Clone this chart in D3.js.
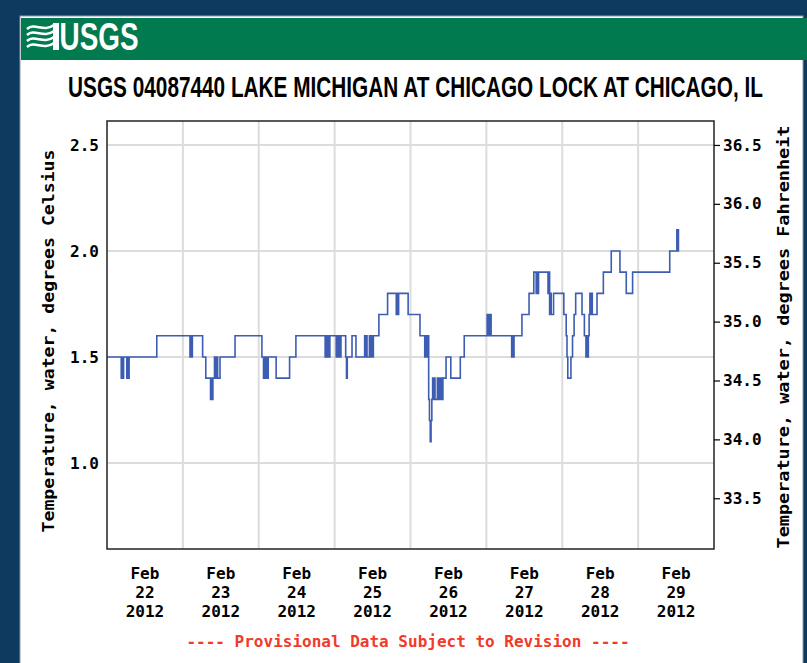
<!doctype html>
<html>
<head>
<meta charset="utf-8">
<title>USGS 04087440 water temperature</title>
<style>
  * { margin: 0; padding: 0; }
  body { background: #0f3a5f; width: 807px; height: 663px; overflow: hidden; }
  svg { display: block; }
  .mono { font-family: "DejaVu Sans Mono", "Liberation Mono", monospace; }
</style>
<script src="https://cdn.jsdelivr.net/npm/d3@7"></script>
</head>
<body>
<div id="chart"></div>
<script>
// station / title
var stationTitle = 'USGS 04087440 LAKE MICHIGAN AT CHICAGO LOCK AT CHICAGO, IL';
var leftTitle = 'Temperature, water, degrees Celsius';
var rightTitle = 'Temperature, water, degrees Fahrenheit';
var footNote = '---- Provisional Data Subject to Revision ----';

// axis extents and ticks
var startDate = new Date(2012, 1, 22);
var endDate = new Date(2012, 2, 1);
var yDomainC = [0.594, 2.613];
var celsiusTicks = [1.0, 1.5, 2.0, 2.5];
var fahrenheitTicks = [33.5, 34.0, 34.5, 35.0, 35.5, 36.0, 36.5];
var dayLabels = [22, 23, 24, 25, 26, 27, 28, 29];

// observations: hours after Feb 22 00:00 and temperature (deg C) from that time on
var obsHours = [0, 4.5, 4.75, 5, 5.25, 6.25, 6.5, 6.75, 7, 15.75,
  26.25, 26.5, 26.75, 27, 30.25, 31.25, 32.75, 33, 33.25, 33.5,
  34, 34.5, 34.75, 35, 35.75, 40.5, 49, 49.5, 49.75, 50,
  50.25, 50.5, 51, 53.5, 57.75, 59.75, 69, 69.25, 69.5, 69.75,
  70, 70.5, 72.5, 72.75, 73, 73.25, 73.5, 74, 75.5, 75.75,
  76, 77.5, 78.75, 81.5, 81.75, 82, 82.25, 83, 83.25, 83.5,
  83.75, 84.25, 86, 88.75, 91.5, 91.75, 92, 92.25, 95.25, 99,
  100.5, 100.75, 101, 101.25, 101.75, 102, 102.25, 102.5, 102.75, 103,
  103.25, 103.5, 103.75, 104.5, 104.75, 105, 105.25, 105.5, 105.75, 106.25,
  107.25, 108.75, 111.75, 113, 120.25, 120.5, 120.75, 121, 121.25, 121.5,
  128, 128.25, 128.5, 128.75, 131.25, 133.5, 135, 135.75, 136, 136.25,
  136.5, 139.5, 139.75, 140, 140.25, 140.5, 141.25, 144.5, 145.25, 145.5,
  145.75, 146.75, 147.25, 147.75, 148.25, 150.25, 151, 151.5, 151.75, 152,
  152.25, 152.5, 152.75, 153, 153.25, 153.5, 155, 157, 159.5, 162.25,
  164.25, 166.25, 178, 180.25, 180.5, 180.75, 181];
var obsTempC = [1.5, 1.4, 1.5, 1.4, 1.5, 1.4, 1.5, 1.4, 1.5, 1.6,
  1.5, 1.6, 1.5, 1.6, 1.5, 1.4, 1.3, 1.4, 1.3, 1.4,
  1.5, 1.4, 1.5, 1.4, 1.5, 1.6, 1.5, 1.4, 1.5, 1.4,
  1.5, 1.4, 1.5, 1.4, 1.5, 1.6, 1.5, 1.6, 1.5, 1.6,
  1.5, 1.6, 1.5, 1.6, 1.5, 1.6, 1.5, 1.6, 1.5, 1.4,
  1.5, 1.6, 1.5, 1.6, 1.5, 1.6, 1.5, 1.6, 1.5, 1.6,
  1.5, 1.6, 1.7, 1.8, 1.7, 1.8, 1.7, 1.8, 1.7, 1.6,
  1.5, 1.6, 1.5, 1.6, 1.3, 1.2, 1.1, 1.2, 1.3, 1.4,
  1.3, 1.4, 1.3, 1.4, 1.3, 1.4, 1.3, 1.4, 1.3, 1.4,
  1.5, 1.4, 1.5, 1.6, 1.7, 1.6, 1.7, 1.6, 1.7, 1.6,
  1.5, 1.6, 1.5, 1.6, 1.7, 1.8, 1.9, 1.8, 1.9, 1.8,
  1.9, 1.8, 1.9, 1.7, 1.8, 1.7, 1.8, 1.7, 1.6, 1.5,
  1.4, 1.5, 1.6, 1.7, 1.8, 1.7, 1.6, 1.5, 1.6, 1.5,
  1.6, 1.7, 1.8, 1.7, 1.8, 1.7, 1.8, 1.9, 2.0, 1.9,
  1.8, 1.9, 2.0, 2.1, 2.0, 2.1, 2.1];

var W = 807, H = 663;
var margin = { left: 107, right: 714, top: 121, bottom: 549 };

var svg = d3.select('#chart').append('svg').attr('width', W).attr('height', H);

// squeeze a text horizontally to a given width, keeping its centre
function fitWidth(sel, cx, width) {
  var w = sel.node().getComputedTextLength();
  var sx = width / w;
  sel.attr('x', 0).attr('text-anchor', 'middle')
    .attr('transform', 'translate(' + cx + ',0) scale(' + sx + ',1)');
}

// white page panel + banner
svg.append('rect').attr('x', 20).attr('y', 16).attr('width', 783).attr('height', 650)
  .attr('fill', '#fff').attr('stroke', '#8a9aa8').attr('stroke-width', 1);
svg.append('rect').attr('x', 21).attr('y', 18).attr('width', 786).attr('height', 42)
  .attr('fill', '#007a4e');

// logo: wave mark and USGS letters
var logo = svg.append('g').attr('transform', 'translate(27,23)');
logo.append('rect').attr('x', 26).attr('y', 0).attr('width', 6).attr('height', 27).attr('fill', '#fff');
[2, 8, 14, 20].forEach(function(dy) {
  logo.append('path')
    .attr('d', 'M0,' + (dy + 4) + ' C8,' + (dy - 3) + ' 16,' + (dy + 8) + ' 27,' + dy)
    .attr('fill', 'none').attr('stroke', '#fff').attr('stroke-width', 2.6);
});
var logoText = svg.append('text').attr('y', 50)
  .style('font-family', '"Liberation Sans", Arial, sans-serif')
  .style('font-weight', 'bold').style('font-size', '38px').attr('fill', '#fff')
  .text('USGS');
fitWidth(logoText, 99, 79);

// title
var title = svg.append('text').attr('y', 97)
  .style('font-family', '"Liberation Sans", Arial, sans-serif')
  .style('font-weight', 'bold').style('font-size', '29px').attr('fill', '#000')
  .text(stationTitle);
fitWidth(title, 415.5, 695);

// scales
var x = d3.scaleTime().domain([startDate, endDate]).range([margin.left, margin.right]);
var y = d3.scaleLinear().domain(yDomainC).range([margin.bottom, margin.top]);
var c2f = function(c) { return c * 1.8 + 32; };
var yF = d3.scaleLinear().domain(yDomainC.map(c2f)).range([margin.bottom, margin.top]);

// gridlines
var grid = svg.append('g').attr('stroke', '#dcdcdc').attr('stroke-width', 2);
grid.selectAll('.hg').data(celsiusTicks).join('line')
  .attr('x1', margin.left).attr('x2', margin.right)
  .attr('y1', function(d) { return y(d); }).attr('y2', function(d) { return y(d); });
grid.selectAll('.vg').data(d3.timeDay.range(d3.timeDay.offset(startDate, 1), endDate)).join('line')
  .attr('y1', margin.top).attr('y2', margin.bottom)
  .attr('x1', function(d) { return x(d); }).attr('x2', function(d) { return x(d); });

// data line
var series = obsHours.map(function(h, i) {
  return { t: new Date(startDate.getTime() + h * 3600e3), v: obsTempC[i] };
});
svg.append('path').datum(series)
  .attr('fill', 'none').attr('stroke', '#3d5db2').attr('stroke-width', 1.6)
  .attr('d', d3.line().curve(d3.curveStepAfter)
    .x(function(d) { return x(d.t); }).y(function(d) { return y(d.v); }));

// frame
svg.append('rect').attr('x', margin.left).attr('y', margin.top)
  .attr('width', margin.right - margin.left).attr('height', margin.bottom - margin.top)
  .attr('fill', 'none').attr('stroke', '#222').attr('stroke-width', 1.5);

// left axis labels (no tick marks)
var leftAxis = svg.append('g').attr('transform', 'translate(' + margin.left + ',0)')
  .call(d3.axisLeft(y).tickValues(celsiusTicks).tickFormat(d3.format('.1f')).tickSize(0).tickPadding(8));
leftAxis.select('.domain').remove();
leftAxis.selectAll('text').attr('class', 'mono').style('font-size', '16px')
  .style('font-weight', 'bold').attr('fill', '#000');

// right axis
var rightAxis = svg.append('g').attr('transform', 'translate(' + margin.right + ',0)')
  .call(d3.axisRight(yF).tickValues(fahrenheitTicks).tickFormat(d3.format('.1f')).tickSize(6).tickPadding(3));
rightAxis.select('.domain').remove();
rightAxis.selectAll('line').attr('stroke', '#000').attr('stroke-width', 1.2);
rightAxis.selectAll('text').attr('class', 'mono').style('font-size', '16px')
  .style('font-weight', 'bold').attr('fill', '#000');

// x labels at noon of each day
var noon = dayLabels.map(function(d) { return new Date(2012, 1, d, 12); });
var xl = svg.append('g').attr('class', 'mono').style('font-size', '16px').style('font-weight', 'bold');
noon.forEach(function(t, i) {
  var tx = xl.append('text').attr('x', x(t)).attr('y', 579).attr('text-anchor', 'middle');
  tx.append('tspan').attr('x', x(t)).text('Feb');
  tx.append('tspan').attr('x', x(t)).attr('dy', 19).text(dayLabels[i]);
  tx.append('tspan').attr('x', x(t)).attr('dy', 19).text('2012');
});

// axis titles
svg.append('text').attr('class', 'mono')
  .attr('transform', 'translate(54,' + ((margin.top + margin.bottom) / 2 + 6) + ') rotate(-90)')
  .attr('text-anchor', 'middle').attr('textLength', 383).attr('lengthAdjust', 'spacingAndGlyphs')
  .style('font-size', '16px').style('font-weight', 'bold').text(leftTitle);
svg.append('text').attr('class', 'mono')
  .attr('transform', 'translate(789,' + ((margin.top + margin.bottom) / 2 + 2) + ') rotate(-90)')
  .attr('text-anchor', 'middle').attr('textLength', 423).attr('lengthAdjust', 'spacingAndGlyphs')
  .style('font-size', '16px').style('font-weight', 'bold').text(rightTitle);

// footnote
svg.append('text').attr('class', 'mono').attr('x', 408).attr('y', 647)
  .attr('text-anchor', 'middle').attr('fill', '#f03a2a')
  .style('font-size', '16px').style('font-weight', 'bold').text(footNote);
</script>
</body>
</html>
